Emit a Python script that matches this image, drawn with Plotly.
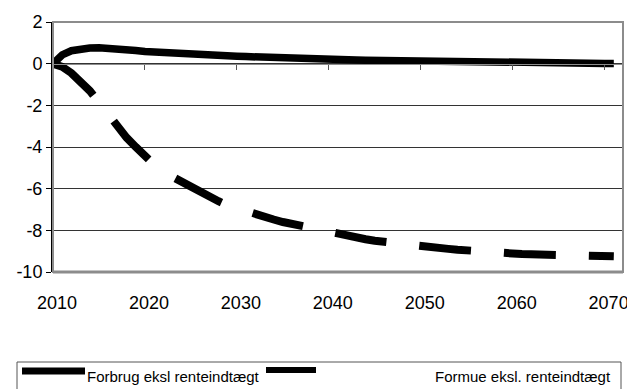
import plotly.graph_objects as go

years = list(range(2010, 2072))

forbrug = [0, 0.42, 0.62, 0.71, 0.75, 0.76, 0.75, 0.72, 0.68, 0.63,
           0.58, 0.55, 0.52, 0.50, 0.47, 0.45, 0.43, 0.41, 0.39, 0.37,
           0.36, 0.34, 0.32, 0.30, 0.29, 0.27, 0.26, 0.25, 0.23, 0.22,
           0.21, 0.20, 0.19, 0.18, 0.17, 0.16, 0.155, 0.15, 0.14, 0.135,
           0.13, 0.12, 0.11, 0.10, 0.095, 0.09, 0.085, 0.08, 0.07, 0.065,
           0.06, 0.055, 0.05, 0.04, 0.035, 0.03, 0.025, 0.02, 0.015, 0.01,
           0.01, 0.01]

formue = [0, -0.15, -0.45, -0.85, -1.3, -1.85, -2.45, -3.05, -3.55, -4.0,
          -4.45, -4.85, -5.2, -5.45, -5.7, -5.95, -6.2, -6.4, -6.6, -6.8,
          -6.95, -7.1, -7.23, -7.35, -7.48, -7.6, -7.7, -7.82, -7.92, -8.02,
          -8.12, -8.2, -8.28, -8.36, -8.43, -8.5, -8.56, -8.62, -8.67, -8.72,
          -8.76, -8.81, -8.85, -8.89, -8.93, -8.97, -9.01, -9.04, -9.07, -9.1,
          -9.12, -9.14, -9.15, -9.16, -9.17, -9.18, -9.2, -9.21, -9.22, -9.23,
          -9.24, -9.25]

x_ticks = [2010, 2020, 2030, 2040, 2050, 2060, 2070]
y_ticks = [-10, -8, -6, -4, -2, 0, 2]
y_ticktext = ["-10", "-8", "-6", "-4", "-2", "0", "2"]

names = ["Forbrug eksl renteindtægt", "Formue eksl. renteindtægt"]

FONT = "Liberation Sans, Arial, sans-serif"
OFF = 8  # page body margin
W, H = 635 - OFF, 389 - OFF
PLOT_L, PLOT_T, PLOT_R, PLOT_B = 53, 22, 623, 272  # page pixels
L = PLOT_L - OFF
T = PLOT_T - OFF
PW = PLOT_R - PLOT_L
PH = PLOT_B - PLOT_T
R = W - L - PW
B = H - T - PH


def px(xp):
    return (xp - PLOT_L) / PW


def py(yp):
    return (PLOT_B - yp) / PH


fig = go.Figure()
fig.add_trace(go.Scatter(x=years, y=forbrug, mode="lines", name=names[0],
                         line=dict(color="black", width=7.5), showlegend=False))
fig.add_trace(go.Scatter(x=years, y=formue, mode="lines", name=names[1],
                         line=dict(color="black", width=8, dash="52px,33px"),
                         showlegend=False))

# invisible trace for the zero-line axis
fig.add_trace(go.Scatter(x=[2010], y=[0], xaxis="x2", mode="markers",
                         marker=dict(opacity=0), showlegend=False, hoverinfo="skip"))

shapes = [
    dict(type="rect", xref="paper", yref="paper", x0=0, x1=1, y0=0, y1=1,
         line=dict(color="#8c8c8c", width=2), layer="above"),
    dict(type="line", xref="paper", yref="paper", x0=0, x1=1, y0=0, y1=0,
         line=dict(color="#8c8c8c", width=3), layer="above"),
    dict(type="rect", xref="paper", yref="paper", x0=px(17), x1=px(621),
         y0=py(395), y1=py(362), line=dict(color="#555555", width=1)),
    dict(type="line", xref="paper", yref="paper", x0=px(22), x1=px(85),
         y0=py(371), y1=py(371), line=dict(color="black", width=7)),
    dict(type="line", xref="paper", yref="paper", x0=px(266), x1=px(316),
         y0=py(370), y1=py(370), line=dict(color="black", width=6)),
]

annotations = [
    dict(xref="paper", yref="paper", x=px(85), y=py(376), text=names[0],
         showarrow=False, xanchor="left", yanchor="middle",
         font=dict(family=FONT, size=15, color="black")),
    dict(xref="paper", yref="paper", x=px(613), y=py(376), text=names[1],
         showarrow=False, xanchor="right", yanchor="middle",
         font=dict(family=FONT, size=15, color="black")),
]

fig.update_layout(
    width=W, height=H,
    margin=dict(l=L, r=R, t=T, b=B, autoexpand=False),
    paper_bgcolor="white", plot_bgcolor="white",
    font=dict(family=FONT, size=18, color="black"),
    showlegend=False,
    shapes=shapes,
    annotations=annotations,
    xaxis=dict(range=[2010, 2072], tickvals=x_ticks, showgrid=False,
               showline=False, zeroline=False, ticks="", ticklabelstandoff=18,
               ticklabelshift=4, tickfont=dict(size=18), automargin=False),
    xaxis2=dict(range=[2010, 2072], tickvals=x_ticks, overlaying="x",
                anchor="free", position=10 / 12, side="bottom",
                showline=True, linecolor="#8c8c8c", linewidth=1,
                ticks="outside", ticklen=5, tickcolor="#555555",
                showticklabels=False, showgrid=False, zeroline=False,
                automargin=False),
    yaxis=dict(range=[-10, 2], tickvals=y_ticks, ticktext=y_ticktext,
               showgrid=True, gridcolor="#333333", gridwidth=1,
               zeroline=False, showline=True, linecolor="black", linewidth=2,
               ticks="outside", ticklen=5, tickcolor="black",
               tickfont=dict(size=18), automargin=False),
)

fig.write_html("out.html")
